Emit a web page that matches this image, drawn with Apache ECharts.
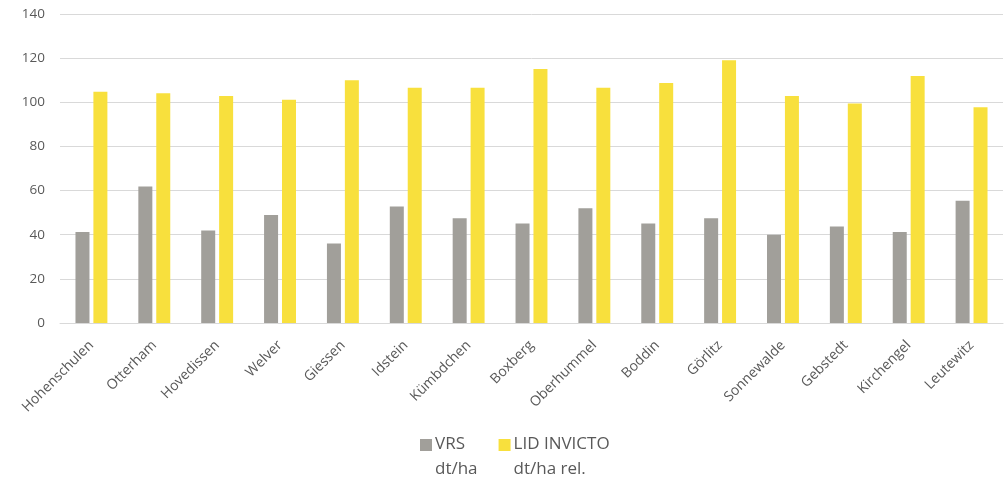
<!DOCTYPE html>
<html>
<head>
<meta charset="utf-8">
<script src="https://cdn.jsdelivr.net/npm/echarts@6/dist/echarts.min.js"></script>
<style>html,body{margin:0;padding:0;background:#fff}#c{width:1006px;height:479px}</style>
</head>
<body>
<div id="c"></div>
<script>
const categories = ['Hohenschulen','Otterham','Hovedissen','Welver','Giessen','Idstein','Kümbdchen','Boxberg','Oberhummel','Boddin','Görlitz','Sonnewalde','Gebstedt','Kirchengel','Leutewitz'];
const vrs = [41.2, 61.8, 41.9, 48.9, 36.0, 52.8, 47.5, 45.1, 52.0, 45.1, 47.5, 40.0, 43.7, 41.2, 55.4];
const lid = [104.8, 104.1, 102.9, 101.1, 110.0, 106.6, 106.6, 115.1, 106.6, 108.7, 119.0, 102.9, 99.5, 111.9, 97.7];
const seriesNames = ['VRS\ndt/ha', 'LID INVICTO\ndt/ha rel.'];

const chart = echarts.init(document.getElementById('c'));
const font = 'Open Sans';
const icon = 'path://M0,0h0.01M0,6h12v12h-12zM0,48h0.01';
chart.setOption({
  animation: false,
  textStyle: { fontFamily: font },
  grid: { left: 60, right: 3, top: 14, bottom: 156 },
  legend: {
    left: 420, top: 432, padding: 0,
    itemWidth: 12, itemHeight: 48, itemGap: 21,
    icon: icon,
    textStyle: { fontFamily: font, fontSize: 17, color: '#595959', lineHeight: 25, padding: [0, 0, 0, -2] },
    data: seriesNames
  },
  xAxis: {
    type: 'category',
    data: categories,
    axisLine: { lineStyle: { color: '#d9d9d9', width: 1 } },
    axisTick: { show: false },
    axisLabel: { rotate: 45, color: '#595959', fontSize: 14, fontFamily: font, margin: 20, interval: 0 }
  },
  yAxis: {
    type: 'value', min: 0, max: 140, interval: 20,
    axisLine: { show: false }, axisTick: { show: false },
    splitLine: { lineStyle: { color: '#d9d9d9', width: 1 } },
    axisLabel: { color: '#595959', fontSize: 13.5, fontFamily: font, margin: 15 }
  },
  series: [
    { name: seriesNames[0], type: 'bar', data: vrs, barWidth: 14, barGap: '28%', itemStyle: { color: '#a19f9a' } },
    { name: seriesNames[1], type: 'bar', data: lid, barWidth: 14, itemStyle: { color: '#f8e03d' } }
  ]
});
</script>
</body>
</html>
